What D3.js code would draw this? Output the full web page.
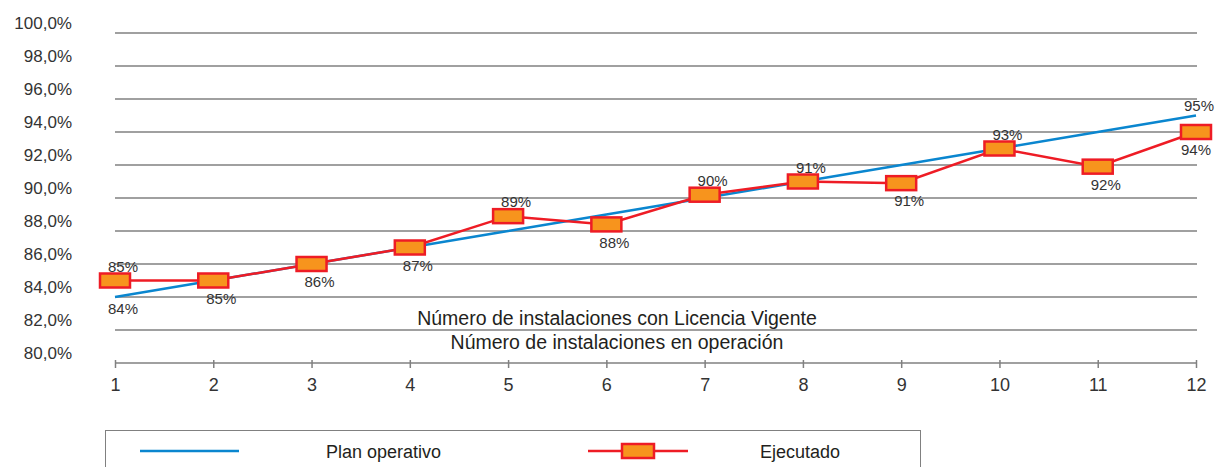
<!DOCTYPE html>
<html>
<head>
<meta charset="utf-8">
<script src="https://cdn.jsdelivr.net/npm/d3@7"></script>
<style>
  body { margin: 0; background: #fff; }
  svg { display: block; font-family: "Liberation Sans", Arial, sans-serif; }
</style>
</head>
<body>
<svg id="chart" width="1217" height="467"></svg>
<script>
// Values
var categories = [1, 2, 3, 4, 5, 6, 7, 8, 9, 10, 11, 12];
var plan = [84, 85, 86, 87, 88, 89, 90, 91, 92, 93, 94, 95];
var ejecutado = [85.0, 85.0, 86.0, 87.0, 88.9, 88.4, 90.2, 91.0, 90.9, 93.0, 91.9, 94.0];
var ejecutadoSide = ["up", "down", "down", "down", "up", "down", "up", "up", "down", "up", "down", "down"];
var planLabelled = [0, 11];
var yTicks = [80, 82, 84, 86, 88, 90, 92, 94, 96, 98, 100];
var subtitles = ["Número de instalaciones con Licencia Vigente", "Número de instalaciones en operación"];
var legendNames = ["Plan operativo", "Ejecutado"];

var blue = "#0a86cf", red = "#ee1c25", orange = "#f7941d", grid = "#808080", ink = "#333";

var svg = d3.select("#chart");

var x = d3.scaleLinear().domain([1, 12]).range([115, 1196]);
var y = d3.scaleLinear().domain([80, 100]).range([363, 33]);

var fmtTick = function (d) { return d3.format(".1f")(d).replace(".", ",") + "%"; };
var fmtPct = function (d) { return d3.format(".0f")(d) + "%"; };

// keep labels at the right edge inside the page
var labelX = function (i) { return Math.min(x(categories[i]) + 8, 1199); };

// gridlines (80% is the axis itself)
svg.append("g").selectAll("line")
    .data(yTicks.filter(function (d) { return d > 80; }))
    .enter().append("line")
    .attr("x1", x(1)).attr("x2", x(12) + 1)
    .attr("y1", function (d) { return y(d); })
    .attr("y2", function (d) { return y(d); })
    .attr("stroke", grid).attr("stroke-width", 1.5);

// y tick labels sit a bit above their lines
svg.append("g").selectAll("text")
    .data(yTicks)
    .enter().append("text")
    .attr("x", 72)
    .attr("y", function (d) { return y(d) - 10; })
    .attr("dy", "0.35em")
    .attr("text-anchor", "end")
    .attr("font-size", 17)
    .attr("fill", ink)
    .text(fmtTick);

// x axis
var xAxis = d3.axisBottom(x).tickValues(categories).tickSize(5).tickFormat(d3.format("d"));
var gx = svg.append("g").attr("transform", "translate(0," + y(80) + ")").call(xAxis);
gx.select(".domain").attr("stroke", grid).attr("stroke-width", 1.5).attr("d", "M" + x(1) + ",0H" + (x(12) + 1));
gx.selectAll(".tick line").attr("stroke", grid).attr("stroke-width", 1.5).attr("y1", -3).attr("y2", 5);
gx.selectAll(".tick text").attr("font-size", 18).attr("font-family", "Liberation Sans, Arial, sans-serif")
    .attr("fill", ink).attr("y", 15);

// subtitles inside the plot
svg.append("g").selectAll("text")
    .data(subtitles)
    .enter().append("text")
    .attr("x", 617)
    .attr("y", function (d, i) { return 318 + i * 24; })
    .attr("dy", "0.35em")
    .attr("text-anchor", "middle")
    .attr("font-size", 19.5)
    .attr("fill", "#231f20")
    .text(function (d) { return d; });

// plan line
var line = d3.line()
    .x(function (d, i) { return x(categories[i]); })
    .y(function (d) { return y(d); });

svg.append("path").datum(plan)
    .attr("d", line)
    .attr("fill", "none").attr("stroke", blue).attr("stroke-width", 2.5);

// ejecutado line
svg.append("path").datum(ejecutado)
    .attr("d", line)
    .attr("fill", "none").attr("stroke", red).attr("stroke-width", 2.5);

// markers
var mw = 30, mh = 14;
svg.append("g").selectAll("rect")
    .data(ejecutado)
    .enter().append("rect")
    .attr("x", function (d, i) { return x(categories[i]) - mw / 2; })
    .attr("y", function (d) { return y(d) - mh / 2; })
    .attr("width", mw).attr("height", mh)
    .attr("fill", orange).attr("stroke", red).attr("stroke-width", 2.5);

// ejecutado labels
svg.append("g").selectAll("text")
    .data(ejecutado)
    .enter().append("text")
    .attr("x", function (d, i) { return i === categories.length - 1 ? x(categories[i]) : labelX(i); })
    .attr("y", function (d, i) { return y(d) + (ejecutadoSide[i] === "up" ? -14 : 18); })
    .attr("dy", "0.35em")
    .attr("text-anchor", "middle")
    .attr("font-size", 15)
    .attr("fill", ink)
    .text(fmtPct);

// plan labels (first and last only)
svg.append("g").selectAll("text")
    .data(planLabelled)
    .enter().append("text")
    .attr("x", labelX)
    .attr("y", function (i) { return y(plan[i]) + (i === 0 ? 12 : -10); })
    .attr("dy", "0.35em")
    .attr("text-anchor", "middle")
    .attr("font-size", 15)
    .attr("fill", ink)
    .text(function (i) { return fmtPct(plan[i]); });

// legend
var lg = svg.append("g");
lg.append("rect")
    .attr("x", 105.5).attr("y", 430.5).attr("width", 815).attr("height", 60)
    .attr("fill", "none").attr("stroke", grid).attr("stroke-width", 1);
lg.append("line")
    .attr("x1", 140).attr("x2", 239).attr("y1", 451).attr("y2", 451)
    .attr("stroke", blue).attr("stroke-width", 2.5);
lg.append("line")
    .attr("x1", 588).attr("x2", 688).attr("y1", 451).attr("y2", 451)
    .attr("stroke", red).attr("stroke-width", 2.5);
lg.append("rect")
    .attr("x", 638 - 16).attr("y", 451 - 7).attr("width", 32).attr("height", 14)
    .attr("fill", orange).attr("stroke", red).attr("stroke-width", 2.5);
lg.selectAll("text.name")
    .data(legendNames)
    .enter().append("text")
    .attr("class", "name")
    .attr("x", function (d, i) { return i === 0 ? 326 : 760; })
    .attr("y", 452)
    .attr("dy", "0.35em")
    .attr("font-size", 18)
    .attr("fill", "#231f20")
    .text(function (d) { return d; });
</script>
</body>
</html>
